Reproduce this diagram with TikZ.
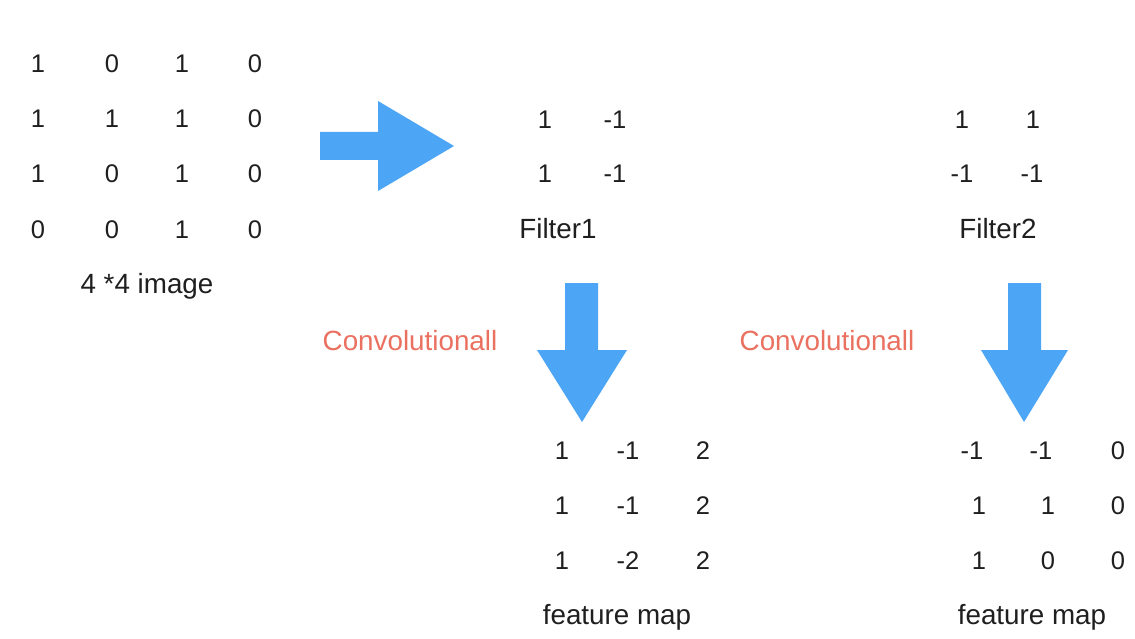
\documentclass[tikz,border=0pt]{standalone}
\usepackage{fontspec}
\setmainfont{Liberation Sans}
\definecolor{arrowblue}{RGB}{76,165,245}
\definecolor{convred}{RGB}{234,112,96}
\tikzset{
  num/.style={anchor=base, inner sep=0pt, font=\fontsize{25.5}{30}\selectfont, text=black!88},
  lbl/.style={anchor=base, inner sep=0pt, font=\fontsize{27.8}{32}\selectfont, text=black!88},
  convlbl/.style={anchor=base, inner sep=0pt, font=\fontsize{27.8}{32}\selectfont, text=convred},
  blockarrow/.style={fill=arrowblue, draw=none}
}
\begin{document}
\begin{tikzpicture}[x=1pt,y=-1pt]
\useasboundingbox[fill=white] (0,0) rectangle (1135,639);

% 4x4 input image
\node[num] (a11) at (38,73) {1};
\node[num] (a12) at (112,73) {0};
\node[num] (a13) at (182,73) {1};
\node[num] (a14) at (255,73) {0};
\node[num] (a21) at (38,128) {1};
\node[num] (a22) at (112,128) {1};
\node[num] (a23) at (182,128) {1};
\node[num] (a24) at (255,128) {0};
\node[num] (a31) at (38,183) {1};
\node[num] (a32) at (112,183) {0};
\node[num] (a33) at (182,183) {1};
\node[num] (a34) at (255,183) {0};
\node[num] (a41) at (38,238) {0};
\node[num] (a42) at (112,238) {0};
\node[num] (a43) at (182,238) {1};
\node[num] (a44) at (255,238) {0};
\node[lbl] (imglbl) at (147,293) {4 *4 image};

% right arrow into the filters
\path[blockarrow] (320,132) -- (378,132) -- (378,101) -- (454,146)
  -- (378,191) -- (378,160) -- (320,160) -- cycle;

% Filter1
\node[num] (f11) at (545,129) {1};
\node[num] (f12) at (615,129) {-1};
\node[num] (f21) at (545,183) {1};
\node[num] (f22) at (615,183) {-1};
\node[lbl] (f1lbl) at (558,238) {Filter1};

% Filter2
\node[num] (g11) at (962,129) {1};
\node[num] (g12) at (1033,129) {1};
\node[num] (g21) at (962,183) {-1};
\node[num] (g22) at (1032,183) {-1};
\node[lbl] (f2lbl) at (998,238) {Filter2};

% convolution steps
\node[convlbl] (conv1) at (410,350) {Convolutionall};
\node[convlbl] (conv2) at (827,350) {Convolutionall};
\path[blockarrow] (565,283) -- (598,283) -- (598,350) -- (627,350)
  -- (582,422) -- (537,350) -- (565,350) -- cycle;
\path[blockarrow] (1008,283) -- (1041,283) -- (1041,350) -- (1068,350)
  -- (1024,422) -- (981,350) -- (1008,350) -- cycle;

% feature map of Filter1
\node[num] (p11) at (562,459) {1};
\node[num] (p12) at (628,459) {-1};
\node[num] (p13) at (703,459) {2};
\node[num] (p21) at (562,514) {1};
\node[num] (p22) at (628,514) {-1};
\node[num] (p23) at (703,514) {2};
\node[num] (p31) at (562,569) {1};
\node[num] (p32) at (628,569) {-2};
\node[num] (p33) at (703,569) {2};
\node[lbl] (pmap) at (617,624) {feature map};

% feature map of Filter2
\node[num] (q11) at (972,459) {-1};
\node[num] (q12) at (1041,459) {-1};
\node[num] (q13) at (1118,459) {0};
\node[num] (q21) at (979,514) {1};
\node[num] (q22) at (1048,514) {1};
\node[num] (q23) at (1118,514) {0};
\node[num] (q31) at (979,569) {1};
\node[num] (q32) at (1048,569) {0};
\node[num] (q33) at (1118,569) {0};
\node[lbl] (qmap) at (1032,624) {feature map};
\end{tikzpicture}
\end{document}
